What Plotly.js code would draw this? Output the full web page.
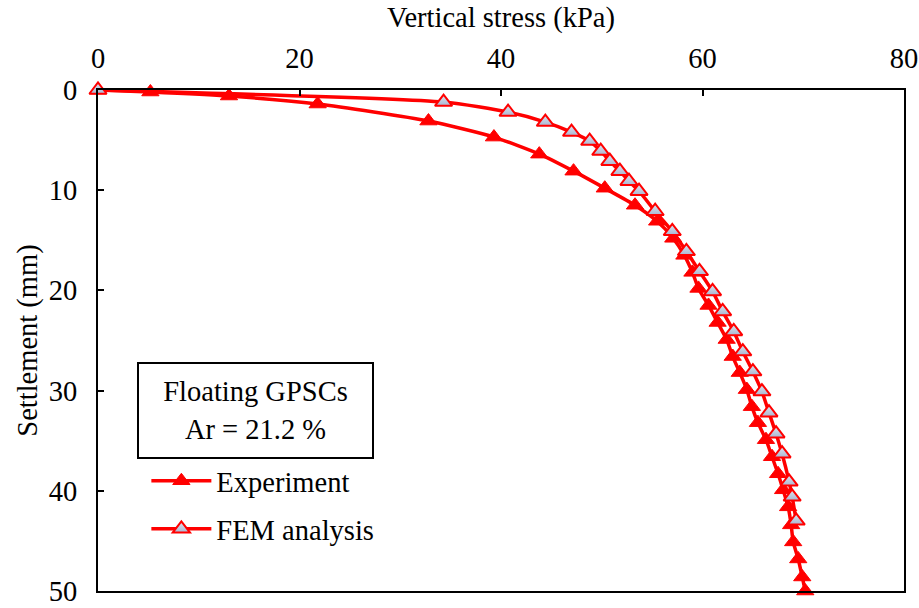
<!DOCTYPE html>
<html>
<head>
<meta charset="utf-8">
<script src="https://cdn.plot.ly/plotly-3.0.1.min.js"></script>
<style>html,body{margin:0;padding:0;background:#fff;}#chart{width:919px;height:608px;}</style>
</head>
<body>
<div id="chart"></div>
<script>
// Experiment: vertical stress (kPa) vs settlement (mm)
const expStress = [0, 5.2, 13.0, 21.8, 32.8, 39.3, 43.8, 47.2, 50.3, 53.3, 55.5, 57.1, 58.2, 59.0, 59.6, 60.6, 61.5, 62.4, 63.0, 63.7, 64.4, 64.9, 65.5, 66.3, 66.9, 67.5, 68.0, 68.5, 68.8, 69.0, 69.5, 69.9, 70.2];
const expSettle = [0, 0.2, 0.6, 1.4, 3.1, 4.7, 6.4, 8.1, 9.8, 11.5, 13.1, 14.8, 16.5, 18.2, 19.8, 21.5, 23.2, 24.9, 26.6, 28.2, 29.9, 31.6, 33.2, 34.9, 36.6, 38.3, 39.9, 41.6, 43.4, 45.1, 46.8, 48.6, 50.0];
// FEM analysis
const femStress = [0, 34.3, 40.7, 44.4, 47.0, 48.8, 49.9, 50.8, 51.8, 52.7, 53.7, 55.3, 57.0, 58.4, 59.7, 61.0, 62.0, 63.1, 64.0, 65.0, 65.9, 66.6, 67.3, 67.9, 68.6, 68.9, 69.3];
const femSettle = [0, 1.2, 2.2, 3.2, 4.2, 5.1, 6.1, 7.1, 8.1, 9.1, 10.1, 12.1, 14.1, 16.1, 18.1, 20.1, 22.1, 24.1, 26.1, 28.1, 30.1, 32.2, 34.3, 36.3, 39.1, 40.6, 43.0];
const xTicks = [0, 20, 40, 60, 80];
const yTicks = [0, 10, 20, 30, 40, 50];

const FONT = 'Liberation Serif, Times New Roman, serif';
const FS = 28.5;

const traces = [
  {
    x: expStress, y: expSettle, name: 'Experiment', mode: 'lines+markers',
    type: 'scatter', legendgroup: 'a', cliponaxis: false,
    line: {color: '#ff0000', width: 3.5, shape: 'spline', smoothing: 0.6},
    marker: {symbol: 'triangle-up', size: 15, color: '#ff0000', line: {color: '#ff0000', width: 1}}
  },
  {
    x: femStress, y: femSettle, name: 'FEM analysis', mode: 'lines+markers',
    type: 'scatter', legendgroup: 'b', cliponaxis: false,
    line: {color: '#ff0000', width: 3.5, shape: 'spline', smoothing: 0.6},
    marker: {symbol: 'triangle-up', size: 15, color: '#dfe5ef',
      gradient: {type: 'vertical', color: '#a9b7d3'},
      line: {color: '#ff0000', width: 2}}
  }
];

const layout = {
  width: 919, height: 608,
  margin: {l: 98, r: 15, t: 90, b: 17},
  paper_bgcolor: '#ffffff', plot_bgcolor: '#ffffff',
  font: {family: FONT, size: FS, color: '#000'},
  xaxis: {
    side: 'top', range: [0, 80], tickvals: xTicks, ticktext: xTicks.map(String),
    ticks: 'inside', ticklen: 6, tickwidth: 2, tickcolor: '#000',
    ticklabelstandoff: 9,
    showline: true, linecolor: '#000', linewidth: 2, mirror: true,
    showgrid: false, zeroline: false,
    tickfont: {family: FONT, size: FS},
    title: {text: 'Vertical stress (kPa)', font: {family: FONT, size: FS}, standoff: 7}
  },
  yaxis: {
    range: [50, 0], tickvals: yTicks, ticktext: yTicks.map(String),
    ticks: 'inside', ticklen: 6, tickwidth: 2, tickcolor: '#000',
    ticklabelstandoff: 13,
    showline: true, linecolor: '#000', linewidth: 2, mirror: true,
    showgrid: false, zeroline: false,
    tickfont: {family: FONT, size: FS},
    title: {text: 'Settlement (mm)', font: {family: FONT, size: FS}, standoff: 3}
  },
  showlegend: true,
  legend: {
    x: 0.06, y: 0.27, xanchor: 'left', yanchor: 'top',
    bgcolor: 'rgba(0,0,0,0)', borderwidth: 0,
    font: {family: FONT, size: FS, color: '#000'},
    itemwidth: 60, tracegroupgap: 8
  },
  annotations: [{
    xref: 'x', yref: 'y', x: 15.65, y: 31.95, xanchor: 'center', yanchor: 'middle',
    text: 'Floating GPSCs<br>Ar = 21.2 %', showarrow: false,
    font: {family: FONT, size: FS, color: '#000'},
    bordercolor: '#000', borderwidth: 2, borderpad: 0,
    width: 233, height: 93, bgcolor: '#fff', align: 'center'
  }]
};

Plotly.newPlot('chart', traces, layout, {displayModeBar: false, staticPlot: true});
</script>
</body>
</html>
